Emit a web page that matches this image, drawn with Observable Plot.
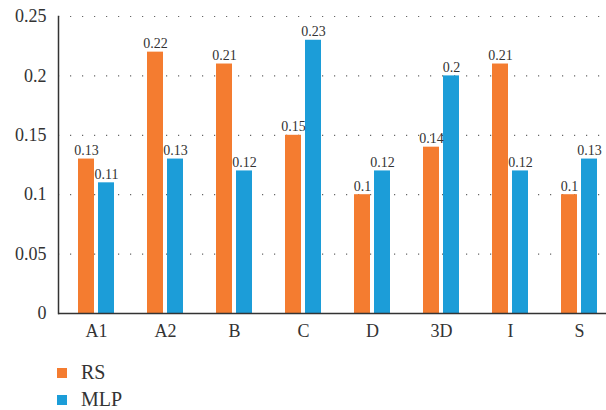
<!DOCTYPE html>
<html>
<head>
<meta charset="utf-8">
<script src="https://cdn.jsdelivr.net/npm/d3@7"></script>
<script src="https://cdn.jsdelivr.net/npm/@observablehq/plot@0.6"></script>
<style>
  body { margin: 0; background: #fff; }
  #chart svg { display: block; }
  .legend { font-family: "Liberation Serif", "DejaVu Serif", serif; font-size: 20px; color: #333; padding-top: 9px; }
  .legend .row { display: flex; align-items: center; height: 27px; }
  .legend .sw { width: 10px; height: 10px; margin-left: 57px; margin-right: 14px; }
</style>
</head>
<body>
<div id="chart"></div>
<script>
// Categories and the two series of scores
const categories = ["A1", "A2", "B", "C", "D", "3D", "I", "S"];
const rsValues   = [0.13, 0.22, 0.21, 0.15, 0.10, 0.14, 0.21, 0.10];
const mlpValues  = [0.11, 0.13, 0.12, 0.23, 0.12, 0.20, 0.12, 0.13];
const yTicks = [0, 0.05, 0.1, 0.15, 0.2, 0.25];
const seriesNames = ["RS", "MLP"];
const seriesColors = ["#f47c30", "#1c9dd8"];

const rs = categories.map((c, i) => ({category: c, value: rsValues[i]}));
const mlp = categories.map((c, i) => ({category: c, value: mlpValues[i]}));

const font = "'Liberation Serif', 'DejaVu Serif', serif";
const ink = "#333";

const chart = Plot.plot({
  width: 606,
  height: 350,
  marginLeft: 58,
  marginRight: 0,
  marginTop: 16,
  marginBottom: 37,
  style: {fontFamily: font, background: "#fff", overflow: "visible"},
  x: {type: "band", domain: categories, range: [58, 617], paddingInner: 0.485, paddingOuter: 0.2425, align: 0.5},
  y: {domain: [0, 0.25]},
  marks: [
    Plot.gridY(yTicks.slice(1), {stroke: "#666", strokeOpacity: 1, strokeWidth: 1.2, strokeDasharray: "1.2,10.8"}),
    Plot.barY(rs, {x: "category", y: "value", fill: seriesColors[0], insetRight: 20}),
    Plot.barY(mlp, {x: "category", y: "value", fill: seriesColors[1], insetLeft: 20}),
    Plot.text(rs, {x: "category", y: "value", text: d => String(d.value), dx: -10, dy: -4, lineAnchor: "bottom", fontSize: 14, fill: ink}),
    Plot.text(mlp, {x: "category", y: "value", text: d => String(d.value), dx: 10, dy: -4, lineAnchor: "bottom", fontSize: 14, fill: ink}),
    Plot.frame({anchor: "left", stroke: ink, strokeWidth: 1.5}),
    Plot.ruleY([0], {stroke: ink, strokeWidth: 1.5}),
    Plot.axisY(yTicks, {tickSize: 0, tickPadding: 12, fontSize: 18, fill: ink, tickFormat: d => String(d), label: null}),
    Plot.axisX({tickSize: 0, tickPadding: 11, fontSize: 18, fill: ink, label: null})
  ]
});

document.getElementById("chart").appendChild(chart);

// Legend below the chart
const legend = document.createElement("div");
legend.className = "legend";
seriesNames.forEach((name, i) => {
  const row = document.createElement("div");
  row.className = "row";
  const sw = document.createElement("span");
  sw.className = "sw";
  sw.style.background = seriesColors[i];
  const label = document.createElement("span");
  label.textContent = name;
  row.appendChild(sw);
  row.appendChild(label);
  legend.appendChild(row);
});
document.getElementById("chart").appendChild(legend);
</script>
</body>
</html>
